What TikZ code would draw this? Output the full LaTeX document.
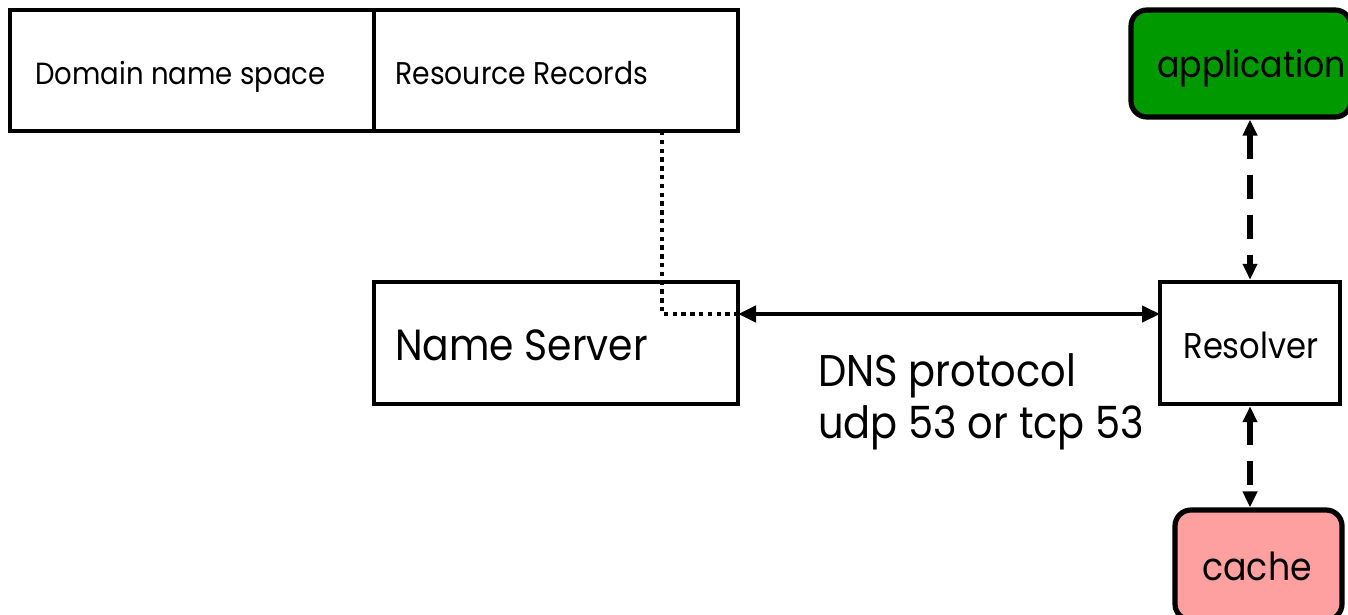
\documentclass[tikz,border=0pt]{standalone}
\usepackage{fontspec}
\setmainfont{Poppins}[FakeStretch=0.9]
\usetikzlibrary{arrows.meta}
\definecolor{appgreen}{RGB}{0,153,0}
\definecolor{cachepink}{RGB}{255,160,160}
\tikzset{
  box/.style={draw, line width=2.2pt, inner sep=0pt},
  rbox/.style={draw, line width=2.6pt, rounded corners=8pt, inner sep=0pt},
  lbl/.style={anchor=base west, inner sep=0pt},
  link/.style={line width=2.2pt, {Triangle[length=9pt,width=8pt]}-{Triangle[length=9pt,width=8pt]}},
  dlink/.style={line width=2.6pt, dash pattern=on 12pt off 8pt, {Triangle[length=8pt,width=7pt]}-{Triangle[length=8pt,width=7pt]}},
}
\begin{document}
\begin{tikzpicture}[x=0.5pt,y=-0.5pt]
\useasboundingbox (0,0) rectangle (1348,615);
% top boxes
\node[box, minimum width=182pt, minimum height=60.5pt] (dns) at (192,70.5) {};
\node[lbl, font=\fontsize{15.3}{18}\selectfont] (dnst) at (35,85) {Domain name space};
\node[box, minimum width=182pt, minimum height=60.5pt] (rr) at (556,70.5) {};
\node[lbl, font=\fontsize{15.7}{18}\selectfont] (rrt) at (395,85) {Resource Records};
% name server
\node[box, minimum width=182pt, minimum height=61pt] (ns) at (556,343) {};
\node[lbl, font=\fontsize{21.8}{24}\selectfont] (nst) at (395,360) {Name Server};
% resolver
\node[box, minimum width=90pt, minimum height=61pt] (res) at (1250,343) {};
\node[lbl, font=\fontsize{17.9}{20}\selectfont] (rest) at (1183,358) {Resolver};
% application
\node[rbox, fill=appgreen, minimum width=110pt, minimum height=53.5pt] (app) at (1241,63.5) {};
\node[lbl, font=\fontsize{18.4}{20}\selectfont] (appt) at (1157,78) {application};
% cache
\node[rbox, fill=cachepink, minimum width=83.5pt, minimum height=55pt] (cache) at (1258.5,565) {};
\node[lbl, font=\fontsize{19.3}{20}\selectfont] (cachet) at (1202,580) {cache};
% connections
\coordinate (nsr) at (738,314);
\coordinate (resl) at (1160,314);
\draw[link] (nsr) -- (resl);
\coordinate (rrb) at (662,131);
\coordinate (nsd) at (738,314);
\draw[line width=2.2pt, dash pattern=on 2.2pt off 2.2pt] (rrb) -- (662,314) -- (nsd);
\draw[dlink] (app.south -| 1250,0) -- (res.north -| 1250,0);
\draw[dlink] (res.south -| 1250,0) -- (cache.north -| 1250,0);
% label
\node[lbl, font=\fontsize{22.2}{24}\selectfont] (proto1) at (818,386) {DNS protocol};
\node[lbl, font=\fontsize{22.2}{24}\selectfont] (proto2) at (818,438) {udp 53 or tcp 53};
\end{tikzpicture}
\end{document}
